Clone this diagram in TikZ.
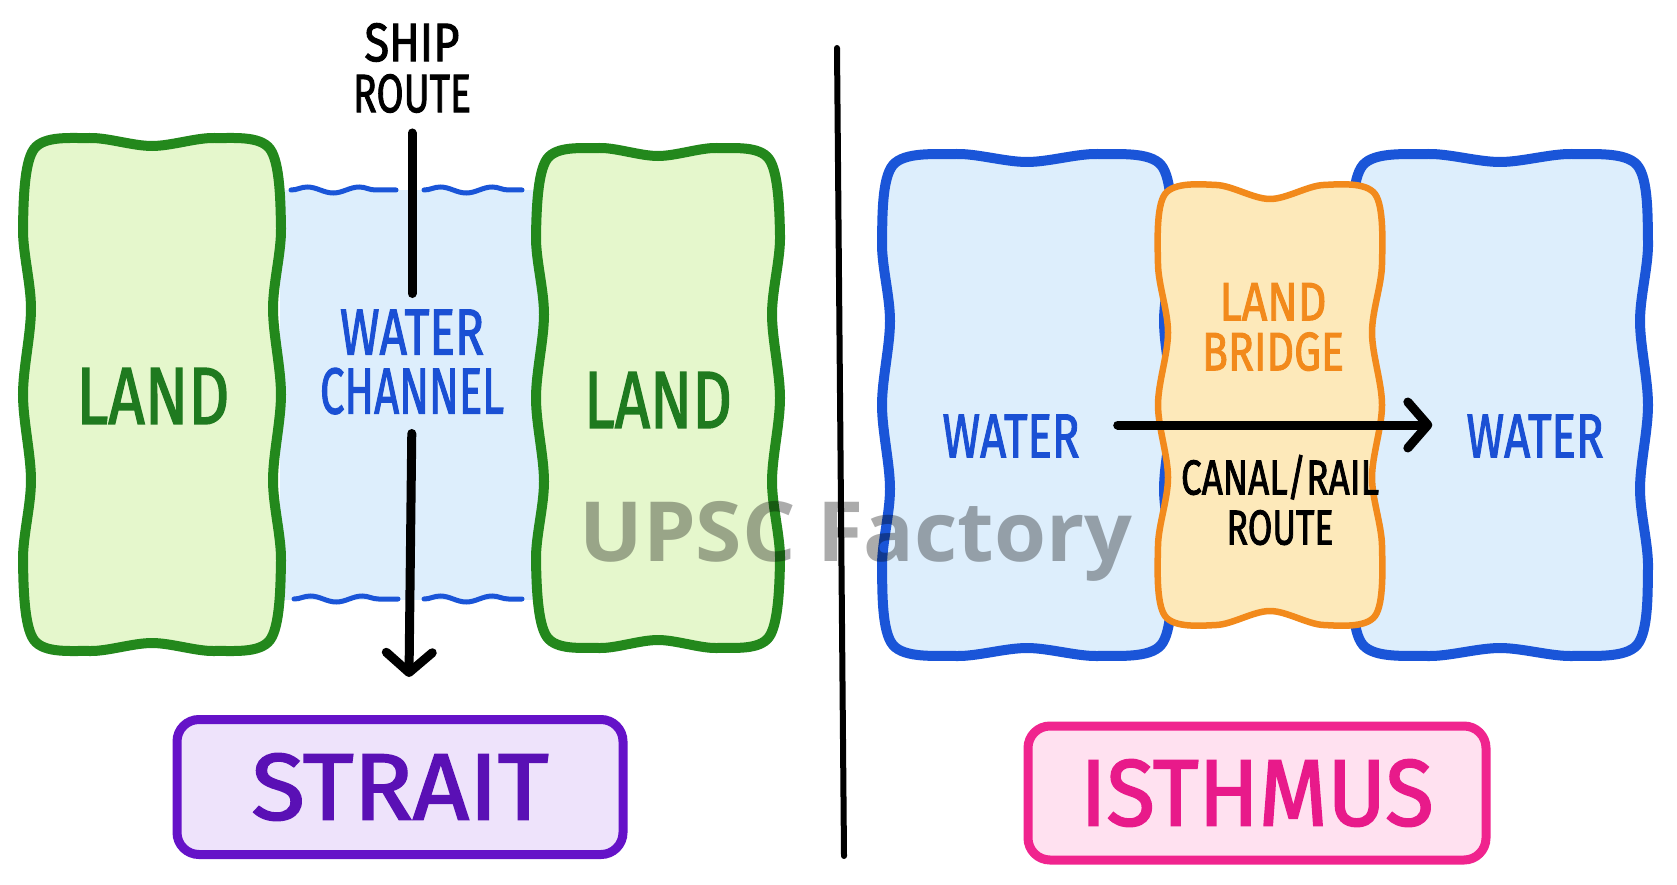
\documentclass[tikz,border=0pt]{standalone}
\usepackage{fontspec}
\usepackage{graphicx}
\setmainfont{Fira Sans}[FakeBold=2]
\newfontfamily\wmfont{Open Sans}
\usetikzlibrary{decorations.pathmorphing,arrows.meta}
\definecolor{landfill}{HTML}{E5F7CC}
\definecolor{landline}{HTML}{23881C}
\definecolor{landtext}{HTML}{1F7A1F}
\definecolor{waterfill}{HTML}{DDEEFC}
\definecolor{waterline}{HTML}{1A55D8}
\definecolor{watertext}{HTML}{1A50D4}
\definecolor{bridgefill}{HTML}{FDE9BA}
\definecolor{bridgeline}{HTML}{F28A1C}
\definecolor{straitfill}{HTML}{EEE3FB}
\definecolor{straitline}{HTML}{6512C8}
\definecolor{straittext}{HTML}{5A10B5}
\definecolor{isthfill}{HTML}{FFE1F0}
\definecolor{isthline}{HTML}{F0248E}
\definecolor{isthtext}{HTML}{E81A8A}
\newcommand\tw[2]{\resizebox{#1pt}{\height}{#2}}
\newcommand\fs[2]{\fontsize{#1}{#2}\selectfont}
\begin{document}
\begin{tikzpicture}[x=1pt,y=-1pt,
  % wavy box: x1,y1,x2,y2,side amplitude,top/bottom amplitude,corner inset
  wbox/.style n args={7}{insert path={plot[smooth cycle, tension=0.55] coordinates {
     ({#1+#7},{#2+#7})
     ({#1+0.25*(#3-#1)},{#2-#6}) ({#1+0.5*(#3-#1)},{#2+#6}) ({#1+0.75*(#3-#1)},{#2-#6})
     ({#3-#7},{#2+#7})
     ({#3+#5},{#2+0.17*(#4-#2)}) ({#3-#5},{#2+0.33*(#4-#2)}) ({#3+#5},{#2+0.5*(#4-#2)})
     ({#3-#5},{#2+0.67*(#4-#2)}) ({#3+#5},{#2+0.83*(#4-#2)})
     ({#3-#7},{#4-#7})
     ({#1+0.75*(#3-#1)},{#4+#6}) ({#1+0.5*(#3-#1)},{#4-#6}) ({#1+0.25*(#3-#1)},{#4+#6})
     ({#1+#7},{#4-#7})
     ({#1-#5},{#2+0.83*(#4-#2)}) ({#1+#5},{#2+0.67*(#4-#2)}) ({#1-#5},{#2+0.5*(#4-#2)})
     ({#1+#5},{#2+0.33*(#4-#2)}) ({#1-#5},{#2+0.17*(#4-#2)})
  }}},
  lbl/.style={inner sep=0pt, align=center},
  landshape/.style={fill=landfill, draw=landline, line width=10pt},
  watershape/.style={fill=waterfill, draw=waterline, line width=10pt},
  bridgeshape/.style={fill=bridgefill, draw=bridgeline, line width=6.5pt, line join=round},
  wave/.style={draw=waterline, line width=5pt, line cap=round,
    decorate, decoration={snake, amplitude=3pt, segment length=52pt}},
  arrowline/.style={line width=9pt, line cap=round, draw=black},
  tip/.style={-{Straight Barb[length=20pt,width=46pt,round]}},
  labelbox/.style={rounded corners=22pt, line width=9pt, inner sep=0pt, draw}
]
\useasboundingbox (0,0) rectangle (1677,885);
\fill[white] (0,0) rectangle (1677,885);

% ---------- STRAIT side ----------
\fill[waterfill] (280,190) rectangle (540,600);
\draw[wave] (291,190) -- (396,190);
\draw[wave] (424,190) -- (522,190);
\draw[wave] (294,599) -- (398,599);
\draw[wave] (424,599) -- (522,599);

\draw[landshape, wbox={27}{142}{277}{647}{4}{4}{7}];
\draw[landshape, wbox={540}{152}{776}{644}{4}{4}{7}];

\node[lbl, text=landtext, font=\fs{81}{90}] (land1) at (153,396) {\tw{153}{LAND}};
\node[lbl, text=landtext, font=\fs{81}{90}] (land2) at (658,400) {\tw{148}{LAND}};

\node[lbl, text=black, font=\fs{54}{51}] (ship) at (412,68) {\tw{95}{SHIP}\\\tw{118}{ROUTE}};
\node[lbl, text=watertext, font=\fs{65}{59}] (chan) at (412,362) {\tw{144}{WATER}\\\tw{184}{CHANNEL}};

\coordinate (shipend) at (409,677);
\draw[arrowline, shorten <=20pt, shorten >=16pt] (ship.south) -- (chan.north);
\draw[arrowline, tip, shorten <=19pt] (chan.south) -- (shipend);

\node[labelbox, draw=straitline, fill=straitfill, minimum width=446pt, minimum height=135pt,
  text=straittext, font=\fs{94}{100}] (strait) at (400,787) {\tw{297}{STRAIT}};

% ---------- divider ----------
\coordinate (dtop) at (837,48);
\coordinate (dbot) at (844,856);
\draw[line width=6pt, line cap=round] (dtop) -- (dbot);

% ---------- ISTHMUS side ----------
\draw[watershape, wbox={886}{158}{1168}{652}{4}{4}{7}];
\draw[watershape, wbox={1356}{158}{1644}{652}{4}{4}{7}];
\draw[bridgeshape, wbox={1163}{192}{1377}{618}{5}{7}{2}];

\node[lbl, text=watertext, font=\fs{62}{70}] (wl) at (1011,436) {\tw{137}{WATER}};
\node[lbl, text=watertext, font=\fs{62}{70}] (wr) at (1535,436) {\tw{137}{WATER}};
\node[lbl, text=bridgeline, font=\fs{54}{50}] (bridge) at (1273,327) {\tw{107}{LAND}\\\tw{142}{BRIDGE}};
\node[lbl, text=black, font=\fs{49}{50}] (canal) at (1280,500) {\tw{198}{CANAL/RAIL}\\\tw{107}{ROUTE}};

\draw[arrowline, tip, shorten <=38pt, shorten >=34pt] ([yshift=11pt]wl.east) -- ([yshift=11pt]wr.west);

\node[labelbox, draw=isthline, fill=isthfill, minimum width=458pt, minimum height=134pt,
  text=isthtext, font=\fs{94}{100}] (isthmus) at (1257,793) {\tw{353}{ISTHMUS}};

% ---------- watermark ----------
\node[inner sep=0pt, anchor=base, text=black, text opacity=0.33, font=\wmfont\bfseries\fs{83}{90}]
  (wm) at (856,561) {\tw{553}{UPSC Factory}};
\end{tikzpicture}
\end{document}
